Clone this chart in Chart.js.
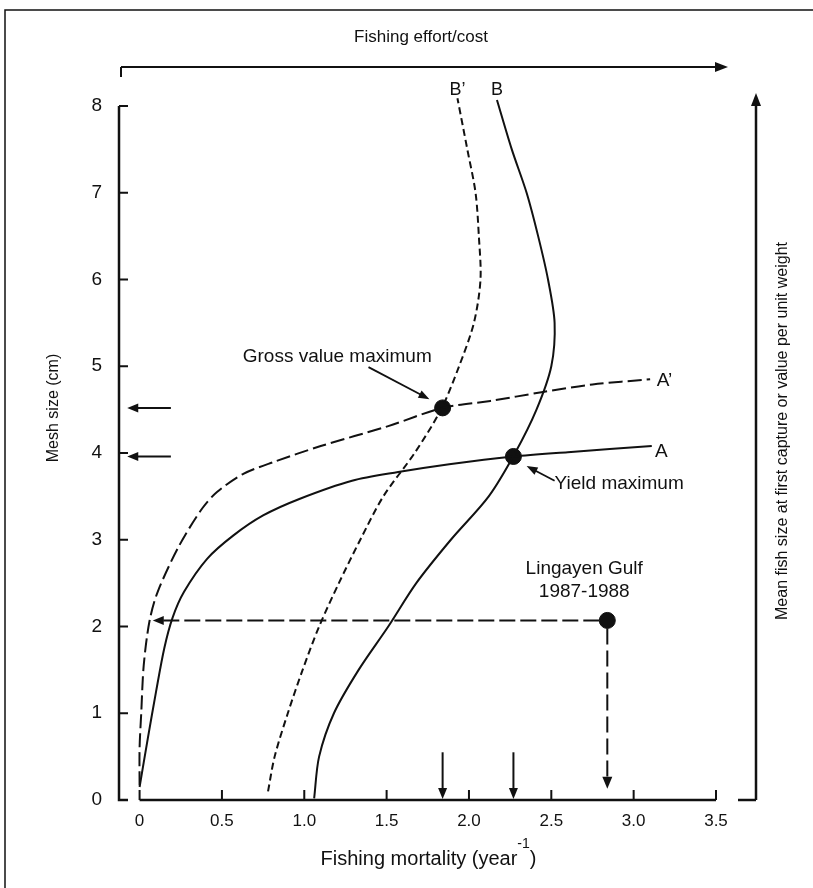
<!DOCTYPE html>
<html>
<head>
<meta charset="utf-8">
<script src="https://cdn.jsdelivr.net/npm/chart.js@4.4.1/dist/chart.umd.min.js"></script>
<style>
  html, body { margin: 0; padding: 0; background: #fff; }
</style>
</head>
<body>
<canvas id="meshChart" width="813" height="888"></canvas>
<script>
// values: [fishing mortality, mesh size]
const curveB      = [[1.06,0.02],[1.09,0.50],[1.18,1.00],[1.33,1.50],[1.51,2.00],[1.68,2.50],[1.89,3.00],
                     [2.12,3.50],[2.28,4.00],[2.41,4.50],[2.50,5.00],[2.52,5.50],[2.48,6.00],[2.42,6.50],
                     [2.35,7.00],[2.26,7.50],[2.17,8.07]];
const curveBPrime = [[0.78,0.10],[0.82,0.50],[0.90,1.00],[0.99,1.50],[1.09,2.00],[1.21,2.50],[1.34,3.00],
                     [1.48,3.50],[1.67,4.00],[1.83,4.50],[1.94,5.00],[2.03,5.50],[2.07,6.00],[2.06,6.50],
                     [2.04,7.00],[1.99,7.50],[1.93,8.09]];
const curveA      = [[0.00,0.15],[0.05,0.71],[0.10,1.25],[0.15,1.75],[0.20,2.10],[0.27,2.40],[0.41,2.78],
                     [0.57,3.05],[0.75,3.28],[0.97,3.47],[1.29,3.68],[1.57,3.78],[1.88,3.87],[2.27,3.96],
                     [2.60,4.01],[3.11,4.08]];
const curveAPrime = [[0.00,0.17],[0.00,0.60],[0.01,1.00],[0.025,1.55],[0.06,2.06],[0.11,2.40],[0.24,2.93],
                     [0.38,3.36],[0.47,3.55],[0.63,3.76],[0.82,3.90],[1.10,4.08],[1.51,4.31],[1.84,4.52],
                     [2.13,4.60],[2.44,4.70],[2.75,4.79],[3.10,4.85]];

const grossMax    = [1.84, 4.52];
const yieldMax    = [2.27, 3.96];
const lingayen    = [2.84, 2.07];
const guideTip    = [0.08, 0.13];   // where the dashed arrows from Lingayen end

const xTickValues = [0, 0.5, 1.0, 1.5, 2.0, 2.5, 3.0, 3.5];
const yTickValues = [0, 1, 2, 3, 4, 5, 6, 7, 8];

const FONT = "'Liberation Sans', Arial, sans-serif";
const INK = '#111';

const toPts = arr => arr.map(p => ({x: p[0], y: p[1]}));

function head(ctx, x, y, ang, len, w) {
  ctx.save();
  ctx.translate(x, y);
  ctx.rotate(ang);
  ctx.beginPath();
  ctx.moveTo(0, 0);
  ctx.lineTo(-len, -w / 2);
  ctx.lineTo(-len, w / 2);
  ctx.closePath();
  ctx.fill();
  ctx.restore();
}

function arrow(ctx, x1, y1, x2, y2, len, w, dash) {
  const ang = Math.atan2(y2 - y1, x2 - x1);
  ctx.save();
  ctx.setLineDash(dash || []);
  ctx.beginPath();
  ctx.moveTo(x1, y1);
  ctx.lineTo(x2 - Math.cos(ang) * (len - 2), y2 - Math.sin(ang) * (len - 2));
  ctx.stroke();
  ctx.restore();
  head(ctx, x2, y2, ang, len, w);
}

function text(ctx, str, x, y, size, align, rot) {
  ctx.save();
  ctx.font = size + 'px ' + FONT;
  ctx.textAlign = align || 'center';
  ctx.textBaseline = 'middle';
  ctx.translate(x, y);
  if (rot) ctx.rotate(rot);
  ctx.fillText(str, 0, 0);
  ctx.restore();
}

const decor = {
  id: 'decor',
  afterDraw(chart) {
    const {ctx, chartArea: ca, scales: {x, y}} = chart;
    const px = v => x.getPixelForValue(v);
    const py = v => y.getPixelForValue(v);
    ctx.save();
    ctx.strokeStyle = INK;
    ctx.fillStyle = INK;
    ctx.lineCap = 'butt';

    // axes
    ctx.lineWidth = 2.5;
    ctx.beginPath();
    ctx.moveTo(ca.left, py(8));
    ctx.lineTo(ca.left, py(0));
    ctx.lineTo(ca.left + 9, py(0));
    ctx.moveTo(px(0), py(0));
    ctx.lineTo(px(3.5), py(0));
    ctx.stroke();

    ctx.lineWidth = 2;
    ctx.beginPath();
    yTickValues.forEach(v => { if (v > 0) { ctx.moveTo(ca.left, py(v)); ctx.lineTo(ca.left + 9, py(v)); } });
    xTickValues.forEach(v => { ctx.moveTo(px(v), py(0)); ctx.lineTo(px(v), py(0) - 10); });
    ctx.stroke();

    // right-hand axis and top effort axis
    const rx = ca.right + 40;
    ctx.lineWidth = 2.5;
    ctx.beginPath();
    ctx.moveTo(ca.right + 22, py(0));
    ctx.lineTo(rx, py(0));
    ctx.stroke();
    arrow(ctx, rx, py(0), rx, 93, 13, 10);
    const ty = 67;
    ctx.lineWidth = 2;
    ctx.beginPath();
    ctx.moveTo(ca.left + 2, ty + 10);
    ctx.lineTo(ca.left + 2, ty);
    ctx.stroke();
    arrow(ctx, ca.left + 2, ty, 728, ty, 13, 10);

    // arrows at the optimum mesh sizes and mortalities
    ctx.lineWidth = 2;
    [grossMax, yieldMax].forEach(p => {
      arrow(ctx, px(0.19), py(p[1]), px(-0.075), py(p[1]), 11, 9);
      arrow(ctx, px(p[0]), py(0.55), px(p[0]), py(0) - 1, 11, 9);
    });

    // Lingayen Gulf guide arrows
    ctx.lineWidth = 2;
    arrow(ctx, px(lingayen[0]) - 8, py(lingayen[1]), px(guideTip[0]), py(lingayen[1]), 11, 9, [16, 5]);
    arrow(ctx, px(lingayen[0]), py(lingayen[1]) + 8, px(lingayen[0]), py(guideTip[1]), 12, 10, [16, 6]);

    // callout arrows
    ctx.lineWidth = 1.8;
    arrow(ctx, px(1.39), py(4.99), px(1.76), py(4.62), 11, 8);
    arrow(ctx, px(2.52), py(3.68), px(2.35), py(3.85), 11, 8);

    // curve labels and annotations
    text(ctx, 'B’', px(1.93), py(8.18), 18);
    text(ctx, 'B', px(2.17), py(8.18), 18);
    text(ctx, 'A’', px(3.14), py(4.83), 19, 'left');
    text(ctx, 'A', px(3.13), py(4.01), 19, 'left');
    text(ctx, 'Gross value maximum', px(1.20), py(5.11), 19);
    text(ctx, 'Yield maximum', px(2.52), py(3.64), 19, 'left');
    text(ctx, 'Lingayen Gulf', px(2.70), py(2.67), 19);
    text(ctx, '1987-1988', px(2.70), py(2.40), 19);

    // axis titles
    text(ctx, 'Fishing effort/cost', 421, 37, 17);
    text(ctx, 'Mesh size (cm)', 54, 408, 16, 'center', -Math.PI / 2);
    text(ctx, 'Mean fish size at first capture or value per unit weight', 783, 431, 16, 'center', -Math.PI / 2);

    ctx.font = '20px ' + FONT;
    const main = 'Fishing mortality (year';
    const wMain = ctx.measureText(main).width;
    const wClose = ctx.measureText(')').width;
    ctx.font = '14px ' + FONT;
    const wSup = ctx.measureText('-1').width;
    const sx = (ca.left + ca.right) / 2 + 11 - (wMain + wSup + wClose) / 2;
    ctx.textAlign = 'left';
    ctx.textBaseline = 'alphabetic';
    ctx.font = '20px ' + FONT;
    ctx.fillText(main, sx, 865);
    ctx.fillText(')', sx + wMain + wSup, 865);
    ctx.font = '14px ' + FONT;
    ctx.fillText('-1', sx + wMain, 848);

    // frame
    ctx.lineWidth = 1.5;
    ctx.beginPath();
    ctx.moveTo(5, 888);
    ctx.lineTo(5, 10);
    ctx.lineTo(813, 10);
    ctx.stroke();
    ctx.restore();
  }
};

const lineSet = (data, dash) => ({
  type: 'line',
  data: toPts(data),
  borderColor: INK,
  borderWidth: 2,
  borderDash: dash,
  pointRadius: 0,
  tension: 0.3,
  fill: false,
  clip: false
});

new Chart(document.getElementById('meshChart'), {
  type: 'scatter',
  data: {
    datasets: [
      lineSet(curveB, []),
      lineSet(curveBPrime, [7, 4]),
      lineSet(curveA, []),
      lineSet(curveAPrime, [14, 5]),
      {
        data: toPts([grossMax, yieldMax, lingayen]),
        pointRadius: 8,
        pointBackgroundColor: INK,
        pointBorderColor: INK,
        clip: false
      }
    ]
  },
  options: {
    responsive: false,
    animation: false,
    layout: { padding: { top: 106, right: 97, left: 0, bottom: 0 } },
    plugins: { legend: { display: false }, tooltip: { enabled: false } },
    scales: {
      x: {
        type: 'linear',
        min: -0.125,
        max: 3.5,
        grid: { display: false, drawTicks: false },
        border: { display: false },
        afterBuildTicks: s => { s.ticks = xTickValues.map(v => ({ value: v })); },
        afterFit: s => { s.height = 88; },
        ticks: {
          padding: 11,
          color: INK,
          autoSkip: false,
          maxRotation: 0,
          font: { family: FONT, size: 17 },
          callback: v => v === 0 ? '0' : v.toFixed(1)
        }
      },
      y: {
        min: 0,
        max: 8,
        grid: { display: false, drawTicks: false },
        border: { display: false },
        afterBuildTicks: s => { s.ticks = yTickValues.map(v => ({ value: v })); },
        afterFit: s => { s.width = 119; },
        ticks: { padding: 17, color: INK, font: { family: FONT, size: 19 } }
      }
    }
  },
  plugins: [decor]
});
</script>
</body>
</html>
